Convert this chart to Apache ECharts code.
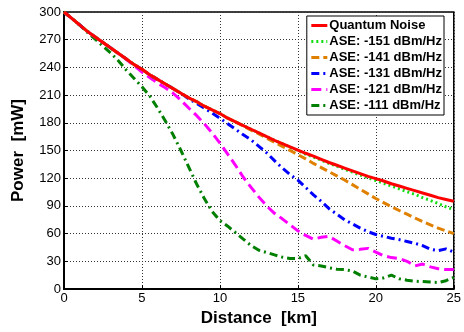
<!DOCTYPE html>
<html>
<head>
<meta charset="utf-8">
<script src="https://cdn.jsdelivr.net/npm/echarts@6/dist/echarts.min.js"></script>
<style>html,body{margin:0;padding:0;background:#fff;}#c{width:464px;height:332px;}</style>
</head>
<body>
<div id="c"></div>
<script>
const distance = [0,0.5,1,1.5,2,2.5,3,3.5,4,4.5,5,5.5,6,6.5,7,7.5,8,8.5,9,9.5,10,10.5,11,11.5,12,12.5,13,13.5,14,14.5,15,15.5,16,16.5,17,17.5,18,18.5,19,19.5,20,20.5,21,21.5,22,22.5,23,23.5,24,24.5,25];
const xTicks = [0,5,10,15,20,25];
const yTicks = [0,30,60,90,120,150,180,210,240,270,300];
const seriesNames = ['Quantum Noise','ASE: -151 dBm/Hz','ASE: -141 dBm/Hz','ASE: -131 dBm/Hz','ASE: -121 dBm/Hz','ASE: -111 dBm/Hz'];
const quantum = [300,293,286,279,273,267,261,255,249,243,238,232,227,222,217,212,207,203,198,194,190,185,181,177,173,169,165,161,157.5,154,150.5,147,144,140.5,137,134,131,128,125,122,119.5,117,114,111.5,109,106.5,104,101.5,99,97,95];
const ase151 = [300,293,286,279,273,267,261,255,249,243,238,232,227,222,217,212,207,203,198,194,190,185,181,177,173,169,165,161,157.5,153.5,150,146,143,139.5,136,133,129.5,126.5,123.5,120.5,117.5,114.5,111.5,108.5,105.5,102.5,99,96,92.5,89,86];
const ase141 = [300,293,286,279,273,267,261,255,249,243,238,232,227,222,217,212,207,203,198,194,190,185,181,176.5,172,168,163.5,159,154.5,150,145.5,141,136,131.5,127,122.5,118,113,108,103,98,93.5,89,85,81,77,73,69.5,66,63,60];
const ase131 = [300,293,286,279,273,267,261,255,249,243,238,232,227,222,217,212,206,201,196,190.5,185,179,173,167,161.5,154.5,147.5,139,131,124,118,110,102,95,87,81,75,70.5,66,62,59,57,55,53.5,51.5,49.5,47,43,41.5,43.5,40];
const ase121 = [300,293,286,279,273,267,261,255,248.5,242,235,229,223,218,212,204.5,196,188,179,169,158,146,134,121,110,99.5,90,82,76,69.5,63,58,54,56,57,52,47,42.5,43,44,40,36,34,33,30,25,27,24,22,21,21];
const ase111 = [300,293,286,278,270.5,263,255.5,247,237,228,219,209,196,182,167,150,132,114,98,84,74,68,61,54,47,42,39.5,37,34.5,33,33,36,26,25,23,21.5,21,19.5,15,13,11,12,15,11,9.5,8.5,8,7.5,7,9,12.5];

const values = [quantum, ase151, ase141, ase131, ase121, ase111];
const colors = ['#ff0000','#11dd11','#e08000','#0000ff','#ff00ff','#007f00'];
const dashes = ['solid',[2,3],[8,4],[8,4,2,4],[10,5],[8,4,2,4]];

const chart = echarts.init(document.getElementById('c'), null, {renderer:'canvas'});
const series = values.map((v,i)=>({
  name: seriesNames[i],
  type: 'line',
  data: distance.map((d,j)=>[d, v[j]]),
  showSymbol: false,
  symbol: 'none',
  smooth: false,
  z: 10 - i,
  lineStyle: {color: colors[i], width: 3, type: dashes[i]},
  itemStyle: {color: colors[i]}
}));

chart.setOption({
  animation: false,
  backgroundColor: '#fff',
  textStyle: {fontFamily: 'Liberation Sans, Arial, sans-serif'},
  grid: {left: 64, right: 10, top: 12, bottom: 42, show: true, borderColor: '#000', borderWidth: 1.5, backgroundColor: 'transparent'},
  legend: {
    data: seriesNames,
    orient: 'vertical',
    right: 20,
    top: 16,
    backgroundColor: '#fff',
    borderColor: '#000',
    borderWidth: 1,
    borderRadius: 0,
    padding: [3, 2, 3, 3],
    itemGap: 3,
    itemWidth: 16,
    itemHeight: 13,
    itemStyle: {opacity: 0},
    lineStyle: {width: 3},
    textStyle: {fontSize: 13, fontWeight: 'bold', color: '#000', padding: [0,0,0,-3]},
    z: 20
  },
  xAxis: {
    type: 'value', min: 0, max: 25, interval: 5,
    name: 'Distance  [km]', nameLocation: 'middle', nameGap: 21,
    nameTextStyle: {fontSize: 17, fontWeight: 'bold', color: '#000'},
    axisLine: {show: true, lineStyle: {color: '#000', width: 2}},
    axisTick: {show: true, inside: true, length: 4, lineStyle: {color: '#000'}},
    axisLabel: {fontSize: 13, color: '#000', margin: 3, formatter: v => xTicks.includes(v) ? String(v) : ''},
    splitLine: {show: true, lineStyle: {color: '#333', width: 1, type: [1,2]}}
  },
  yAxis: {
    type: 'value', min: 0, max: 300, interval: 30,
    name: 'Power  [mW]', nameLocation: 'middle', nameGap: 37, nameRotate: 90,
    nameTextStyle: {fontSize: 17, fontWeight: 'bold', color: '#000'},
    axisLine: {show: true, lineStyle: {color: '#000', width: 2}},
    axisTick: {show: true, inside: true, length: 4, lineStyle: {color: '#000'}},
    axisLabel: {fontSize: 13, color: '#000', margin: 3, formatter: v => yTicks.includes(v) ? String(v) : ''},
    splitLine: {show: true, lineStyle: {color: '#333', width: 1, type: [1,2]}}
  },
  series: series
});
</script>
</body>
</html>
